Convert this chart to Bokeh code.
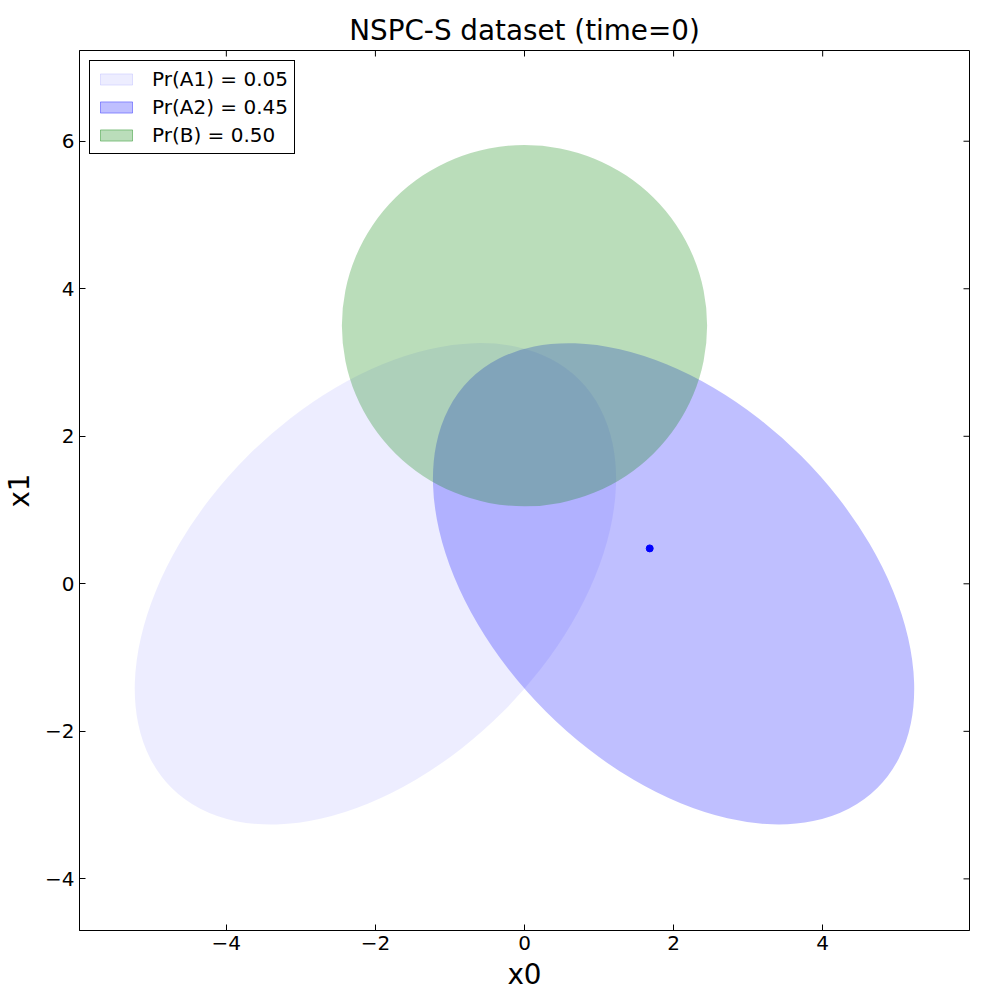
import math
from bokeh.plotting import figure
from bokeh.models import Range1d, FixedTicker, Legend, LegendItem
from bokeh.embed import file_html
from bokeh.resources import INLINE

# ---- data ----
labels = ["Pr(A1) = 0.05", "Pr(A2) = 0.45", "Pr(B) = 0.50"]
centers_x = [-2.0, 2.0, 0.0]
centers_y = [0.0, 0.0, 3.5]
axis_major = [7.74, 7.74, 4.90]   # full width along rotated axis
axis_minor = [4.90, 4.90, 4.90]
angles_deg = [45.0, -45.0, 0.0]
colors = ["#0000ff", "#0000ff", "#008000"]
alphas = [0.07, 0.25, 0.27]

point_x = [1.68]
point_y = [0.48]

x_ticks = [-4, -2, 0, 2, 4]
y_ticks = [-4, -2, 0, 2, 4, 6]
x_range = (-5.97, 5.97)
y_range = (-4.70, 7.23)

FONT = "DejaVu Sans"


def tick_text(t):
    return ("\u2212" + str(abs(t))) if t < 0 else str(t)


p = figure(
    output_backend="svg", toolbar_location=None,
    frame_width=890, frame_height=880,
    min_border_left=72, min_border_right=22, min_border_top=50, min_border_bottom=55,
    x_range=Range1d(*x_range), y_range=Range1d(*y_range),
    title="NSPC-S dataset (time=0)",
)
p.title.text_font = FONT
p.title.text_font_size = "27.8px"
p.title.text_font_style = "normal"
p.title.align = "center"
p.title.text_color = "black"
p.title.standoff = 7

p.xgrid.visible = False
p.ygrid.visible = False
p.outline_line_color = "black"
p.outline_line_width = 1
p.background_fill_color = "white"
p.border_fill_color = "white"

# ellipses / circle
for i in range(len(labels)):
    p.ellipse(x=[centers_x[i]], y=[centers_y[i]], width=[axis_major[i]], height=[axis_minor[i]],
              angle=[math.radians(angles_deg[i])],
              fill_color=colors[i], fill_alpha=alphas[i], line_color=None)

p.scatter(point_x, point_y, size=7, color="blue", line_color="blue")

# legend proxies (rectangles, like matplotlib patches); NaN = not drawn in plot
nan = float("nan")
items = []
for i in range(len(labels)):
    r = p.quad(left=[nan], right=[nan], top=[nan], bottom=[nan],
               fill_color=colors[i], fill_alpha=alphas[i],
               line_color=colors[i], line_alpha=min(1.0, alphas[i] * 1.5), line_width=1)
    items.append(LegendItem(label=labels[i], renderers=[r]))

legend = Legend(items=items, location="top_left")
legend.label_text_font = FONT
legend.label_text_font_size = "20px"
legend.label_text_color = "black"
legend.glyph_width = 40
legend.glyph_height = 14
legend.label_height = 22
legend.label_standoff = 16
legend.spacing = 4
legend.padding = 6
legend.margin = 10
legend.border_line_color = "black"
legend.border_line_width = 1
legend.border_line_alpha = 1.0
legend.background_fill_alpha = 1.0
p.add_layout(legend, "center")

# axes
def style_axis(ax, ticks):
    ax.ticker = FixedTicker(ticks=ticks)
    ax.major_tick_in = 6
    ax.major_tick_out = 0
    ax.minor_tick_in = 0
    ax.minor_tick_out = 0
    ax.axis_line_color = "black"
    ax.major_tick_line_color = "black"
    ax.major_label_overrides = {t: tick_text(t) for t in ticks}
    ax.major_label_text_font = FONT
    ax.major_label_text_font_size = "20px"
    ax.major_label_text_color = "black"
    ax.major_label_standoff = 5
    ax.axis_label_text_font = FONT
    ax.axis_label_text_font_size = "27.8px"
    ax.axis_label_text_font_style = "normal"
    ax.axis_label_text_color = "black"


xa = p.xaxis[0]
ya = p.yaxis[0]
style_axis(xa, x_ticks)
style_axis(ya, y_ticks)
xa.axis_label = "x0"
ya.axis_label = "x1"
xa.axis_label_standoff = 5
ya.axis_label_standoff = 6

# inward ticks on top and right edges (no labels), as in the reference
p.ray(x=x_ticks, y=[y_range[1]] * len(x_ticks), length=6, length_units="screen",
      angle=-math.pi / 2, line_color="black", line_width=1)
p.ray(x=[x_range[1]] * len(y_ticks), y=y_ticks, length=6, length_units="screen",
      angle=math.pi, line_color="black", line_width=1)

open("out.html", "w").write(file_html(p, INLINE))
